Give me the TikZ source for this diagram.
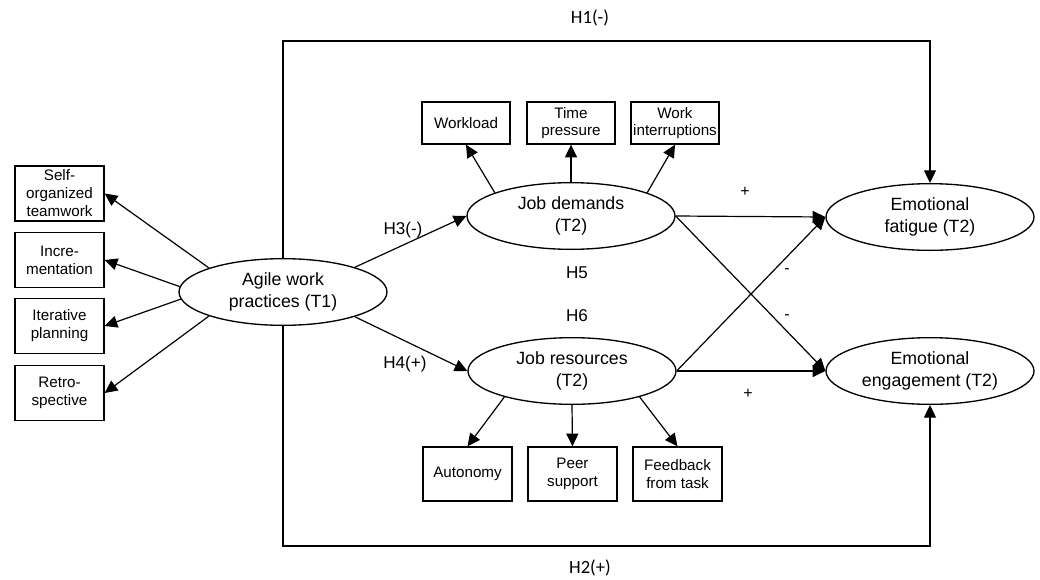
\documentclass[tikz,border=0pt]{standalone}
\usepackage{fontspec}
\setmainfont{Liberation Sans}
\newfontfamily\calib{Carlito}
\usetikzlibrary{shapes.geometric,arrows.meta}
\begin{document}
\begin{tikzpicture}[x=0.75pt,y=-0.75pt,
  line width=0.9pt,
  arr/.style={-{Triangle[length=9.5pt,width=9pt]}},
  ell/.style={ellipse,draw,line width=1pt,minimum width=156pt,minimum height=50pt,inner sep=0pt,align=center,font=\fontsize{13.3}{16.5}\selectfont},
  lbox/.style={rectangle,draw,line width=1pt,minimum width=66.75pt,minimum height=41.25pt,inner sep=0pt,align=center,font=\fontsize{11.4}{13.5}\selectfont},
  tbox/.style={rectangle,draw,line width=1pt,minimum width=66pt,minimum height=31.5pt,inner sep=0pt,align=center,font=\fontsize{11.4}{13}\selectfont},
  bbox/.style={rectangle,draw,line width=1pt,minimum width=66.75pt,minimum height=40.5pt,inner sep=0pt,align=center,font=\fontsize{11.4}{13.5}\selectfont},
  hlab/.style={font=\fontsize{12.8}{15}\selectfont,inner sep=0pt},
  slab/.style={font=\fontsize{12}{14}\selectfont,inner sep=0pt},
  clab/.style={font=\calib\fontsize{14}{16}\selectfont,inner sep=0pt}]
\useasboundingbox (0,0) rectangle (1040,579);

\node[ell] (agile) at (283,292) {Agile work\\practices (T1)};
\node[ell] (jd) at (571,216) {Job demands\\(T2)};
\node[ell] (jr) at (572,371) {Job resources\\(T2)};
\node[ell] (ef) at (930,217) {Emotional\\fatigue (T2)};
\node[ell] (ee) at (930,371) {Emotional\\engagement (T2)};

\node[lbox] (sb1) at (59.5,193.5) {Self-\\organized\\teamwork};
\node[lbox] (sb2) at (59.5,260) {Incre-\\mentation};
\node[lbox] (sb3) at (59.5,326) {Iterative\\planning};
\node[lbox] (sb4) at (59.5,393) {Retro-\\spective};

\node[tbox] (wl) at (466,123) {Workload};
\node[tbox] (tp) at (571,123) {Time\\pressure};
\node[tbox] (wi) at (675,123) {Work\\interruptions};

\node[bbox] (au) at (467.5,474) {Autonomy};
\node[bbox] (ps) at (572.5,474) {Peer\\support};
\node[bbox] (fb) at (677.5,474) {Feedback\\from task};

\draw[arr] (agile.162) -- (sb1.east);
\draw[arr] (agile.177) -- (sb2.east);
\draw[arr] (agile.184) -- (sb3.east);
\draw[arr] (agile.198) -- (sb4.east);

\draw[arr] (jd.163) -- (wl.south);
\draw[arr] (jd.90) -- (tp.south);
\draw[arr] (jd.17) -- (wi.south);

\draw[arr] (jr.201) -- (au.north);
\draw[arr] (jr.270) -- (ps.north);
\draw[arr] (jr.339) -- (fb.north);

\draw[arr] (agile.19) -- (jd.west);
\draw[arr] (agile.-19) -- (jr.west);

\draw[arr] (jd.east) -- (ef.west);
\draw[arr] (jd.east) -- (ee.west);
\draw[arr] (jr.east) -- (ef.west);
\draw[arr] (jr.east) -- (ee.west);

\coordinate (h1r) at (930,41);
\coordinate (h2r) at (930,546);
\draw[arr] (agile.north) |- (h1r) -- (ef.north);
\draw[arr] (agile.south) |- (h2r) -- (ee.south);

\node[clab] (h1) at (590,18) {H1(-)};
\node[clab] (h2) at (590,568) {H2(+)};
\node[hlab] (h3) at (403,230) {H3(-)};
\node[hlab] (h4) at (405,364) {H4(+)};
\node[hlab] (h5) at (577,273) {H5};
\node[hlab] (h6) at (577,316) {H6};
\node[slab] (p1) at (745,192) {+};
\node[slab] (p2) at (748,394) {+};
\node[slab] (m1) at (787,271) {-};
\node[slab] (m2) at (787,317) {-};
\end{tikzpicture}
\end{document}
